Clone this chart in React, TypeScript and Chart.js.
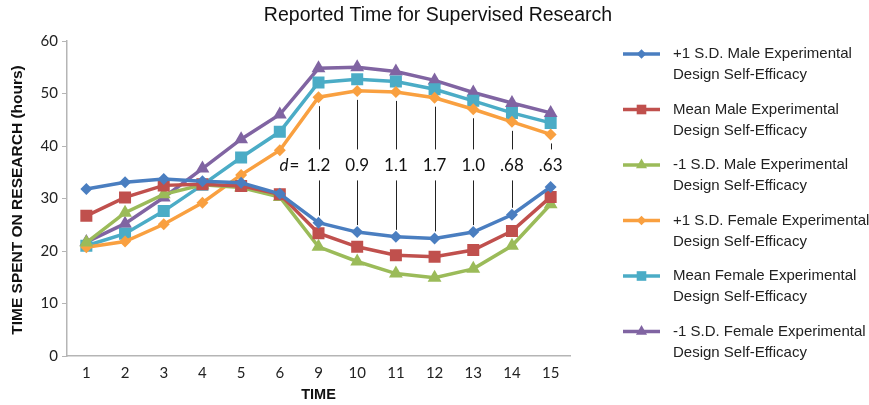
import { useEffect, useRef } from 'react';
import { Chart, registerables } from 'chart.js';

Chart.register(...registerables);

const categories = ['1', '2', '3', '4', '5', '6', '9', '10', '11', '12', '13', '14', '15'];
const plusMale = [31.8, 33.1, 33.7, 33.3, 33.0, 30.9, 25.4, 23.6, 22.7, 22.4, 23.6, 26.9, 32.2];
const meanMale = [26.7, 30.2, 32.5, 32.7, 32.4, 30.8, 23.4, 20.8, 19.2, 18.9, 20.2, 23.8, 30.3];
const minusMale = [21.6, 27.3, 30.8, 32.6, 32.1, 30.3, 20.8, 18.0, 15.7, 14.9, 16.6, 21.0, 28.9];
const plusFemale = [20.7, 21.8, 25.1, 29.2, 34.5, 39.2, 49.3, 50.5, 50.3, 49.2, 47.0, 44.6, 42.2];
const meanFemale = [21.0, 23.3, 27.6, 32.6, 37.8, 42.7, 52.1, 52.7, 52.3, 50.8, 48.6, 46.3, 44.4];
const minusFemale = [21.7, 25.2, 30.2, 35.7, 41.3, 46.0, 54.8, 55.0, 54.2, 52.5, 50.2, 48.2, 46.3];

const seriesLabels = [
  ['+1 S.D. Male Experimental', 'Design Self-Efficacy'],
  ['Mean Male Experimental', 'Design Self-Efficacy'],
  ['-1 S.D. Male Experimental', 'Design Self-Efficacy'],
  ['+1 S.D. Female Experimental', 'Design Self-Efficacy'],
  ['Mean Female Experimental', 'Design Self-Efficacy'],
  ['-1 S.D. Female Experimental', 'Design Self-Efficacy'],
];

const effectCategories = ['9', '10', '11', '12', '13', '14', '15'];
const effectSizes = ['1.2', '0.9', '1.1', '1.7', '1.0', '.68', '.63'];

const titleText = 'Reported Time for Supervised Research';
const yTitle = 'TIME SPENT ON RESEARCH (hours)';
const xTitle = 'TIME';

const colors = ['#4A7EC0', '#C0504D', '#9BBB59', '#F9A040', '#4BACC6', '#8064A2'];
const shapes = ['rectRot', 'rect', 'triangle', 'rectRot', 'rect', 'triangle'];
const radii = [6, 8.5, 8, 6, 8.5, 8];

function drawMarker(ctx: CanvasRenderingContext2D, shape: string, x: number, y: number, r: number, color: string) {
  ctx.save();
  ctx.fillStyle = color;
  ctx.beginPath();
  if (shape === 'rectRot') {
    ctx.moveTo(x, y - r);
    ctx.lineTo(x + r, y);
    ctx.lineTo(x, y + r);
    ctx.lineTo(x - r, y);
  } else if (shape === 'rect') {
    const s = r * Math.SQRT1_2;
    ctx.rect(x - s, y - s, 2 * s, 2 * s);
  } else {
    const h = r * 1.5;
    const w = r * Math.sqrt(3) / 2;
    ctx.moveTo(x, y - r);
    ctx.lineTo(x + w, y + h - r);
    ctx.lineTo(x - w, y + h - r);
  }
  ctx.closePath();
  ctx.fill();
  ctx.restore();
}

const overlayPlugin = {
  id: 'overlay',
  afterDraw(chart: any) {
    const ctx: CanvasRenderingContext2D = chart.ctx;
    const area = chart.chartArea;
    const xs = chart.scales.x;
    const ys = chart.scales.y;
    ctx.save();
    // Title
    ctx.fillStyle = '#111';
    ctx.font = '19.5px "Liberation Sans", Arial, sans-serif';
    ctx.textAlign = 'center';
    ctx.textBaseline = 'middle';
    ctx.fillText(titleText, 438, 16);

    // Axis titles
    ctx.font = 'bold 14.5px "Liberation Sans", Arial, sans-serif';
    ctx.fillText(xTitle, (area.left + area.right) / 2, 395);
    ctx.save();
    ctx.translate(18, 200);
    ctx.rotate(-Math.PI / 2);
    ctx.font = 'bold 15.5px "Liberation Sans", Arial, sans-serif';
    ctx.fillText(yTitle, 0, 0);
    ctx.restore();

    // Effect size annotations
    const metaTop = chart.getDatasetMeta(3);
    const metaBottom = chart.getDatasetMeta(0);
    const labelY = ys.getPixelForValue(36.3);
    ctx.font = '17px Lato, "Open Sans", sans-serif';
    ctx.strokeStyle = '#222';
    ctx.lineWidth = 1;
    effectCategories.forEach((cat, i) => {
      const idx = categories.indexOf(cat);
      const x = xs.getPixelForValue(idx);
      const yTop = metaTop.data[idx].y;
      const yBot = metaBottom.data[idx].y;
      const segs = [
        [yTop + 9, labelY - 16],
        [labelY + 15, yBot - 7],
      ];
      segs.forEach(([a, b]) => {
        if (b > a) {
          ctx.beginPath();
          ctx.moveTo(Math.round(x) + 0.5, a);
          ctx.lineTo(Math.round(x) + 0.5, b);
          ctx.stroke();
        }
      });
      ctx.fillStyle = '#111';
      ctx.textAlign = 'center';
      ctx.fillText(effectSizes[i], x, labelY);
      if (i === 0) {
        ctx.textAlign = 'left';
        ctx.font = 'italic 17px Lato, "Open Sans", sans-serif';
        ctx.fillText('d', x - 39, labelY);
        const dw = ctx.measureText('d').width;
        ctx.font = '17px Lato, "Open Sans", sans-serif';
        ctx.fillText('=', x - 39 + dw + 1, labelY);
      }
    });

    // Legend
    ctx.font = '15px "Liberation Sans", Arial, sans-serif';
    ctx.textAlign = 'left';
    ctx.textBaseline = 'middle';
    seriesLabels.forEach((lines, i) => {
      const y = 54 + i * 55.5;
      ctx.strokeStyle = colors[i];
      ctx.lineWidth = 3.5;
      ctx.beginPath();
      ctx.moveTo(623, y);
      ctx.lineTo(660, y);
      ctx.stroke();
      drawMarker(ctx, shapes[i], 641.5, y, radii[i] * 0.8, colors[i]);
      ctx.fillStyle = '#222';
      lines.forEach((t, j) => ctx.fillText(t, 673, y + j * 21));
    });
    ctx.restore();
  },
};

export default function App() {
  const ref = useRef<HTMLCanvasElement>(null);
  useEffect(() => {
    document.body.style.margin = '0';
    const series = [plusMale, meanMale, minusMale, plusFemale, meanFemale, minusFemale];
    const chart = new Chart(ref.current!, {
      type: 'line',
      data: {
        labels: categories,
        datasets: series.map((d, i) => ({
          label: seriesLabels[i].join(' '),
          data: d,
          borderColor: colors[i],
          backgroundColor: colors[i],
          pointBackgroundColor: colors[i],
          pointBorderColor: colors[i],
          borderWidth: 3.5,
          pointStyle: shapes[i] as any,
          pointRadius: radii[i],
          pointBorderWidth: 0,
          tension: 0,
        })),
      },
      options: {
        animation: false,
        responsive: false,
        devicePixelRatio: 1,
        layout: { padding: { left: 0, right: 299, top: 41, bottom: 0 } },
        plugins: {
          legend: { display: false },
          title: { display: false },
          tooltip: { enabled: false },
        },
        scales: {
          x: {
            offset: true,
            grid: { display: false },
            border: { display: true, color: '#B5B5B5', width: 1.5 },
            ticks: { color: '#222', padding: 0, font: { family: 'Lato', size: 15 } },
            afterFit: (s: any) => { s.height = 49; },
          },
          y: {
            min: 0,
            max: 60,
            ticks: { stepSize: 10, color: '#222', padding: 4, font: { family: 'Lato', size: 15 } },
            grid: { drawOnChartArea: false, drawTicks: true, tickLength: 5, color: '#B5B5B5' },
            border: { display: true, color: '#B5B5B5', width: 1.5 },
            afterFit: (s: any) => { s.width = 67; },
          },
        },
      },
      plugins: [overlayPlugin],
    });
    return () => chart.destroy();
  }, []);
  return <canvas ref={ref} width={869} height={405} style={{ display: 'block', width: 869, height: 405 }} />;
}
